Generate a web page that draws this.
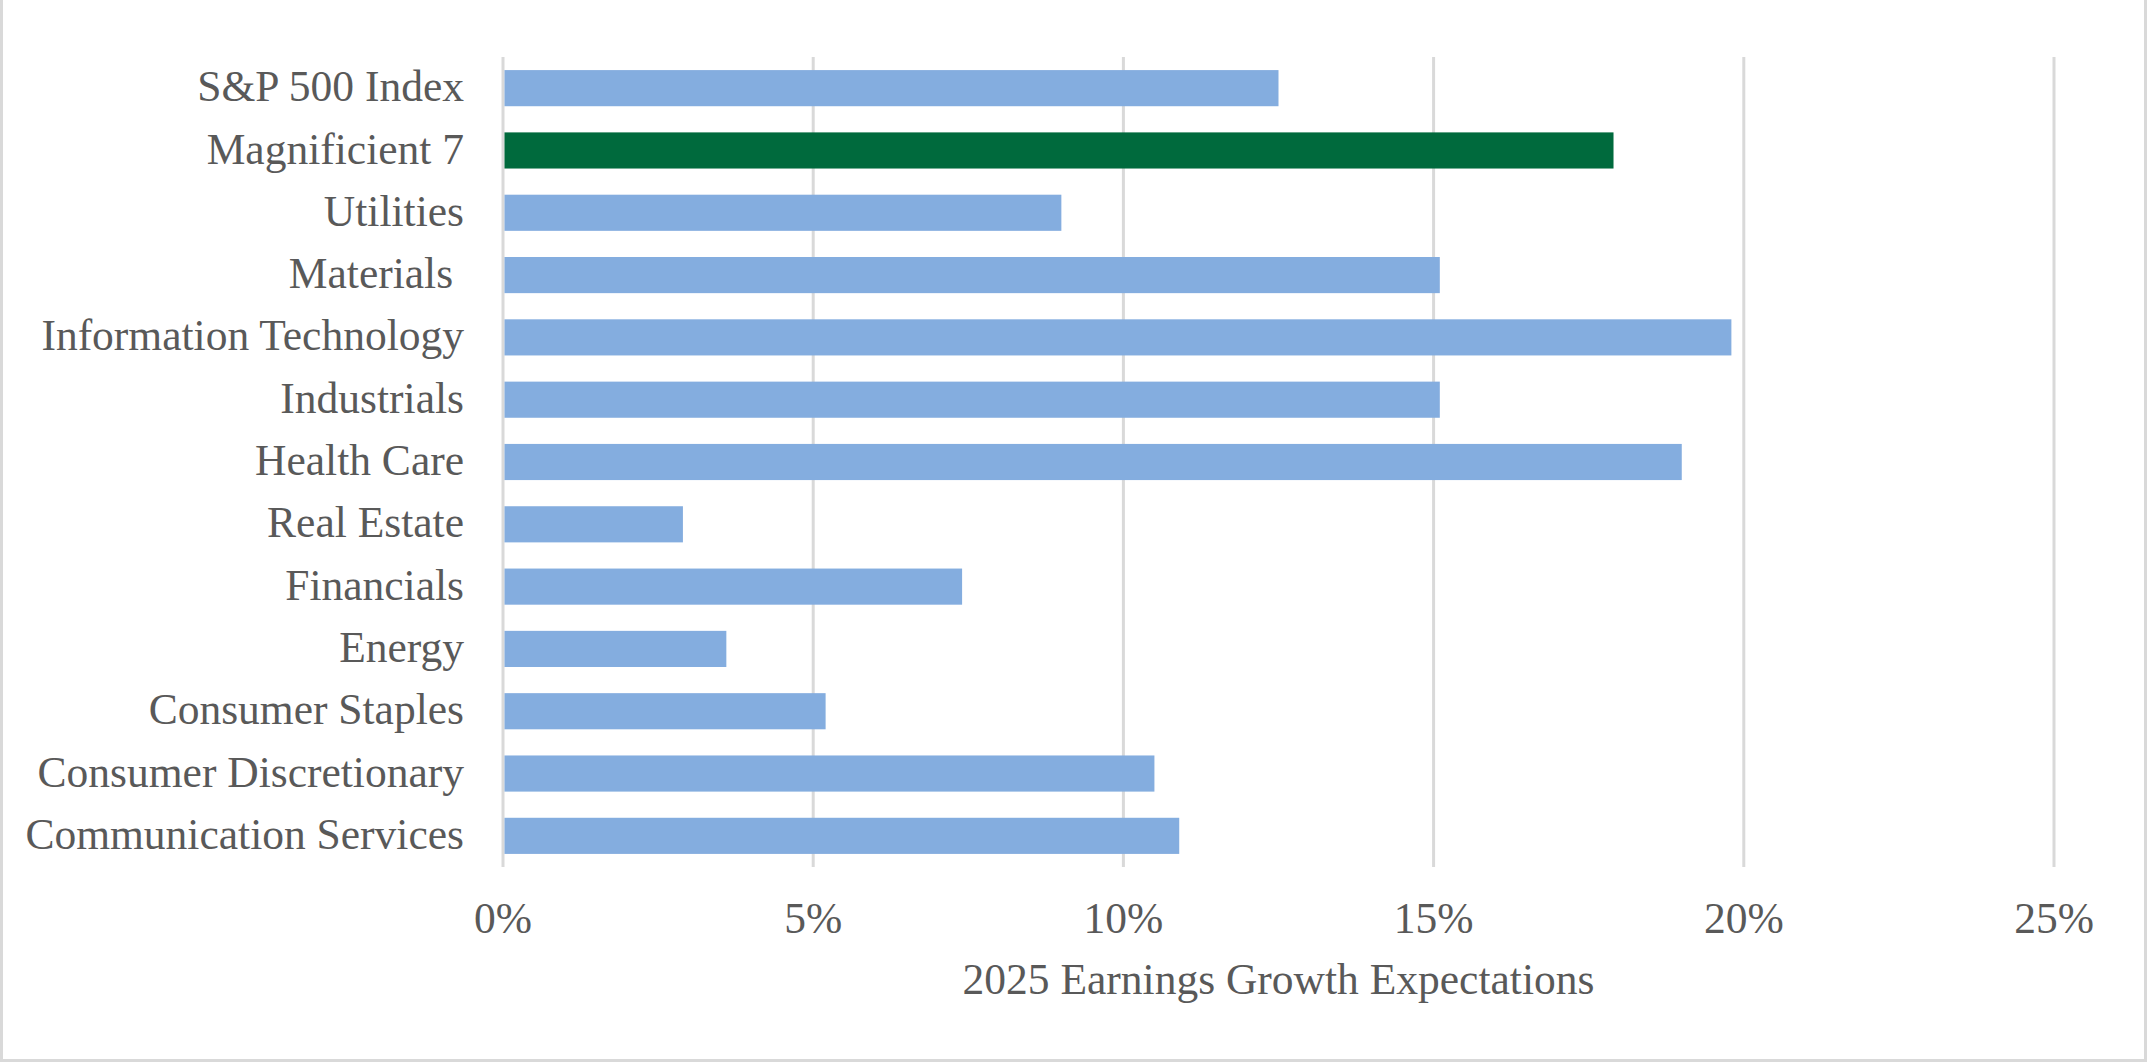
<!DOCTYPE html>
<html>
<head>
<meta charset="utf-8">
<script src="https://cdn.jsdelivr.net/npm/d3@7"></script>
<style>
  html, body { margin: 0; padding: 0; background: #fff; }
  svg text { font-family: "Liberation Serif", "Times New Roman", serif; fill: #595959; white-space: pre; }
</style>
</head>
<body>
<div class="container"></div>
<script>
// Chart data, top to bottom.
const categories = [
  'S&P 500 Index',
  'Magnificient 7',
  'Utilities',
  'Materials ',
  'Information Technology',
  'Industrials',
  'Health Care',
  'Real Estate',
  'Financials',
  'Energy',
  'Consumer Staples',
  'Consumer Discretionary',
  'Communication Services'
];
const growth = [12.5, 17.9, 9.0, 15.1, 19.8, 15.1, 19.0, 2.9, 7.4, 3.6, 5.2, 10.5, 10.9];
const highlighted = ['Magnificient 7'];
const xTicks = [0, 5, 10, 15, 20, 25];
const axisTitle = '2025 Earnings Growth Expectations';

const W = 2147;
const H = 1062;
const margin = { top: 57, right: 93, bottom: 195, left: 503 };
const fontSize = 43.5;

const data = categories.map((c, i) => ({ name: c, value: growth[i] }));

const svg = d3
  .select('.container')
  .append('svg')
  .attr('width', W)
  .attr('height', H);

// Outer frame (left, right, bottom edges visible).
svg.append('rect')
  .attr('x', 1.5)
  .attr('y', -10)
  .attr('width', W - 3)
  .attr('height', H + 10 - 1.5)
  .attr('fill', 'none')
  .attr('stroke', '#d9d9d9')
  .attr('stroke-width', 3);

// Scales.
const xScale = d3
  .scaleLinear()
  .domain([0, 25])
  .range([margin.left, W - margin.right]);

const yScale = d3
  .scaleBand()
  .domain(categories)
  .range([margin.top, H - margin.bottom])
  .paddingInner(0.42)
  .paddingOuter(0.21);

// Gridlines (the 0 line doubles as the axis).
svg.append('g')
  .attr('class', 'grid')
  .selectAll('line')
  .data(xTicks)
  .join('line')
  .attr('x1', d => xScale(d))
  .attr('x2', d => xScale(d))
  .attr('y1', margin.top)
  .attr('y2', H - margin.bottom)
  .attr('stroke', '#d9d9d9')
  .attr('stroke-width', 3);

// Bars.
svg.append('g')
  .attr('class', 'bars')
  .selectAll('rect')
  .data(data)
  .join('rect')
  .attr('x', xScale(0) + 1.5)
  .attr('y', d => yScale(d.name))
  .attr('width', d => xScale(d.value) - xScale(0) - 1.5)
  .attr('height', yScale.bandwidth())
  .attr('fill', d => (highlighted.includes(d.name) ? '#006a3d' : '#84addf'));

// Category labels.
svg.append('g')
  .attr('class', 'y-labels')
  .selectAll('text')
  .data(data)
  .join('text')
  .attr('x', xScale(0) - 39)
  .attr('y', d => yScale(d.name) + yScale.bandwidth() / 2)
  .attr('dy', '0.3em')
  .attr('text-anchor', 'end')
  .style('font-size', fontSize + 'px')
  .text(d => d.name);

// X tick labels.
svg.append('g')
  .attr('class', 'x-labels')
  .selectAll('text')
  .data(xTicks)
  .join('text')
  .attr('x', d => xScale(d))
  .attr('y', 933)
  .attr('text-anchor', 'middle')
  .style('font-size', fontSize + 'px')
  .text(d => d + '%');

// Axis title.
svg.append('text')
  .attr('x', (xScale(0) + xScale(25)) / 2)
  .attr('y', 994)
  .attr('text-anchor', 'middle')
  .style('font-size', fontSize + 'px')
  .text(axisTitle);
</script>
</body>
</html>
